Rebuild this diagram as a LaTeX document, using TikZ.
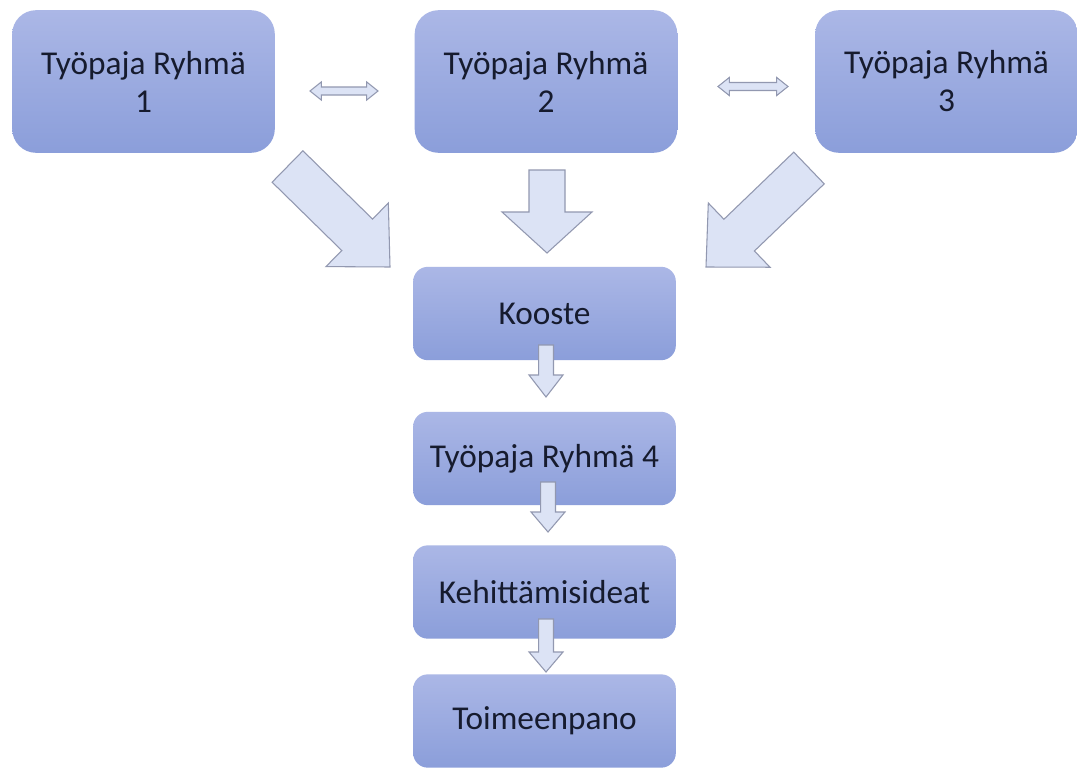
\documentclass[tikz,border=0pt]{standalone}
\usepackage{fontspec}
\setmainfont{Carlito}
\usetikzlibrary{calc}
\definecolor{boxtop}{HTML}{ABB7E6}
\definecolor{boxbot}{HTML}{8B9EDA}
\definecolor{arrfill}{HTML}{DCE3F5}
\definecolor{arrline}{HTML}{9298B0}
\definecolor{txt}{HTML}{161B2E}
\tikzset{
  bigbox/.style={rectangle, rounded corners=18pt, top color=boxtop, bottom color=boxbot, draw=none,
    minimum width=197pt, minimum height=107pt, align=center, text=txt,
    font=\fontsize{25}{28.5}\selectfont},
  smallbox/.style={rectangle, rounded corners=11pt, top color=boxtop, bottom color=boxbot, draw=none,
    minimum width=197pt, minimum height=70pt, align=center, text=txt,
    font=\fontsize{25}{28.5}\selectfont},
  barrowstyle/.style={fill=arrfill, draw=arrline, line width=0.8pt, line join=miter},
}
% tail, tip, half shaft width, half head width, head length
\newcommand\blockarr[5]{%
  \coordinate (hb) at ($(#2)!#5!(#1)$);
  \draw[barrowstyle] ($(#1)!#3!90:(#2)$) -- ($(hb)!#3!90:(#2)$) -- ($(hb)!#4!90:(#2)$) -- (#2)
    -- ($(hb)!#4!-90:(#2)$) -- ($(hb)!#3!-90:(#2)$) -- ($(#1)!#3!-90:(#2)$) -- cycle;
}
% left end, right end, half shaft, half head, head length
\newcommand\dblarr[5]{%
  \coordinate (ha) at ($(#1)!#5!(#2)$);
  \coordinate (hz) at ($(#2)!#5!(#1)$);
  \draw[barrowstyle] (#1) -- ($(ha)!#4!90:(#2)$) -- ($(ha)!#3!90:(#2)$) -- ($(hz)!#3!-90:(#1)$)
    -- ($(hz)!#4!-90:(#1)$) -- (#2) -- ($(hz)!#4!90:(#1)$) -- ($(hz)!#3!90:(#1)$)
    -- ($(ha)!#3!-90:(#2)$) -- ($(ha)!#4!-90:(#2)$) -- cycle;
}
\begin{document}
\begin{tikzpicture}[x=0.75pt, y=-0.75pt]
\useasboundingbox[fill=white] (0,0) rectangle (1077,767);
% boxes
\node[bigbox] (r1) at (143.5,81.5) {Työpaja Ryhmä\\1};
\node[bigbox] (r2) at (546,81.5) {Työpaja Ryhmä\\2};
\node[bigbox] (r3) at (946.5,81.5) {Työpaja Ryhmä\\3};
\node[smallbox] (k) at (544.5,313.5) {Kooste};
\node[smallbox] (r4) at (544.5,458.5) {Työpaja Ryhmä 4};
\node[smallbox] (ke) at (544.5,592) {Kehittämisideat};
\node[smallbox] (t) at (544.5,721) {Toimeenpano};
% double arrows
\coordinate (d1a) at (310,91); \coordinate (d1b) at (378,91);
\coordinate (d2a) at (718,86.5); \coordinate (d2b) at (788,86.5);
\dblarr{d1a}{d1b}{3pt}{6.8pt}{8.5pt}
\dblarr{d2a}{d2b}{3pt}{6.8pt}{8.5pt}
% big arrows
\coordinate (a1t) at (287.5,166.5); \coordinate (a1h) at (390,267);
\coordinate (a2t) at (547,170); \coordinate (a2h) at (547,253);
\coordinate (a3t) at (809,168); \coordinate (a3h) at (706,267);
\blockarr{a1t}{a1h}{16.5pt}{33.4pt}{34.5pt}
\blockarr{a2t}{a2h}{13.5pt}{33.75pt}{30.75pt}
\blockarr{a3t}{a3h}{16.5pt}{33.4pt}{34.5pt}
% small arrows
\coordinate (s1t) at (546,345); \coordinate (s1h) at (546,397);
\coordinate (s2t) at (548,482); \coordinate (s2h) at (548,532);
\coordinate (s3t) at (546,619); \coordinate (s3h) at (546,672);
\blockarr{s1t}{s1h}{5.6pt}{12.75pt}{16.5pt}
\blockarr{s2t}{s2h}{5.6pt}{12.75pt}{15pt}
\blockarr{s3t}{s3h}{5.6pt}{12.75pt}{15pt}
\end{tikzpicture}
\end{document}
